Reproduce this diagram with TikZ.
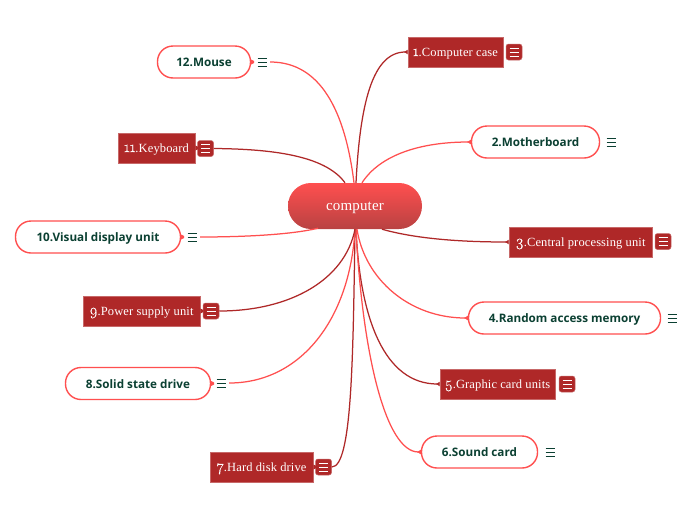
\documentclass[tikz,border=0pt]{standalone}
\usepackage{fontspec}
\setmainfont{Liberation Serif}[LetterSpace=1.0]
\newfontfamily\boldsans{Open Sans}
\newfontfamily\olddigits{Latin Modern Roman}[Numbers=OldStyle,Scale=1.25,FakeBold=0.6]
\newcommand{\oldnum}[1]{{\olddigits #1}}
\usetikzlibrary{arrows.meta}
\definecolor{brick}{HTML}{AF2828}
\definecolor{coral}{HTML}{FF4F4F}
\definecolor{ink}{HTML}{0B4032}
\tikzset{
  x=1pt,y=-1pt,
  rootnode/.style={draw=none,rounded corners=22.9pt,top color=coral,bottom color=brick!88!white,minimum width=134pt,minimum height=46pt,inner sep=0pt,text=white,text height=8pt,text depth=0pt,font=\fontsize{15}{17}\selectfont},
  boxnode/.style={draw=brick!70!white,line width=.6pt,fill=brick,minimum height=30pt,inner sep=0pt,text=white,text height=8pt,text depth=0pt,font=\fontsize{12.5}{14}\selectfont},
  pillnode/.style={draw=coral,line width=1.4pt,fill=white,rounded corners=15.5pt,minimum height=32pt,inner sep=0pt,text=ink,text height=9pt,text depth=0pt,font=\boldsans\bfseries\fontsize{11.7}{14}\selectfont},
  menubox/.style={draw=brick!70!white,line width=.5pt,fill=brick,rounded corners=2.5pt,minimum width=16pt,minimum height=16pt,inner sep=0pt,
    path picture={\draw[white,line width=1pt] ([xshift=-4.5pt,yshift=4pt]path picture bounding box.center) -- ++(9pt,0pt) ([xshift=-4.5pt]path picture bounding box.center) -- ++(9pt,0pt) ([xshift=-4.5pt,yshift=-4pt]path picture bounding box.center) -- ++(9pt,0pt);}},
  menuplain/.style={draw=none,minimum width=16pt,minimum height=16pt,inner sep=0pt,
    path picture={\draw[ink,line width=.9pt] ([xshift=-4.5pt,yshift=4pt]path picture bounding box.center) -- ++(9pt,0pt) ([xshift=-4.5pt]path picture bounding box.center) -- ++(9pt,0pt) ([xshift=-4.5pt,yshift=-4pt]path picture bounding box.center) -- ++(9pt,0pt);}},
  linkdark/.style={draw=brick,line width=1.25pt},
  linklight/.style={draw=coral,line width=1.25pt},
  tipin/.style={-{Latex[reversed,length=4pt,width=5pt]}},
}
\begin{document}
\begin{tikzpicture}
\useasboundingbox (0,0) rectangle (696,520);
\fill[white] (0,0) rectangle (696,520);
\node[rootnode] (root) at (355,206) {computer};

\node[boxnode,minimum width=95pt] (n1) at (455.5,52) {\oldnum{1}.Computer case};
\node[menubox] (m1) at (514,52) {};
\node[pillnode,minimum width=128pt] (n2) at (535.5,142) {2.Motherboard\hspace{5pt}};
\node[menuplain] (m2) at (611,142) {};
\node[boxnode,minimum width=143pt] (n3) at (580.5,242) {\oldnum{3}.Central processing unit};
\node[menubox] (m3) at (663,241.5) {};
\node[pillnode,minimum width=192pt] (n4) at (564.5,318) {4.Random access memory\hspace{5pt}};
\node[menuplain] (m4) at (672,318) {};
\node[boxnode,minimum width=115pt] (n5) at (497.5,384) {\oldnum{5}.Graphic card units};
\node[menubox] (m5) at (567,384) {};
\node[pillnode,minimum width=116pt] (n6) at (479.5,452) {6.Sound card\hspace{7pt}};
\node[menuplain] (m6) at (550,452) {};
\node[boxnode,minimum width=103pt] (n7) at (261.5,467) {\oldnum{7}.Hard disk drive};
\node[menubox] (m7) at (323.5,467) {};
\node[pillnode,minimum width=145pt] (n8) at (138,383.5) {8.Solid state drive\hspace{5pt}};
\node[menuplain] (m8) at (221,383) {};
\node[boxnode,minimum width=117pt] (n9) at (141.5,311) {\oldnum{9}.Power supply unit};
\node[menubox] (m9) at (211,311) {};
\node[pillnode,minimum width=165pt] (n10) at (98,237) {10.Visual display unit\hspace{5pt}};
\node[menuplain] (m10) at (192,237) {};
\node[boxnode,minimum width=77pt] (n11) at (156.5,148) {\oldnum{11}.Keyboard};
\node[menubox] (m11) at (205.5,148.5) {};
\node[pillnode,minimum width=93pt] (n12) at (204,62) {12.Mouse\hspace{4pt}};
\node[menuplain] (m12) at (262,62) {};

% right-hand links
\draw[linkdark,tipin] (root.north) ++(1,0) .. controls (360,105) and (372,52) .. (n1.west);
\draw[linklight,tipin] (root.north) ++(7,0) .. controls (380,155) and (420,142) .. (n2.west);
\draw[linkdark,tipin] (root.south) ++(27,0) .. controls (420,240) and (470,242) .. (n3.west);
\draw[linklight,tipin] (root.south) ++(2,0) .. controls (365,280) and (410,318) .. (n4.west);
\draw[linkdark,tipin] (root.south) ++(1,0) .. controls (360,320) and (385,384) .. (n5.west);
\draw[linklight,tipin] (root.south) ++(1,0) .. controls (362,350) and (385,452) .. (n6.west);
% left-hand links
\draw[linkdark] (root.south) .. controls (353,360) and (352,467) .. (m7.east);
\draw[linklight] (root.south) .. controls (350,320) and (300,383) .. (m8.east);
\draw[linkdark] (root.south) .. controls (345,280) and (290,311) .. (m9.east);
\draw[linklight] (root.south) ++(-37,-1) .. controls (290,235) and (240,237) .. (m10.east);
\draw[linkdark] (root.north) ++(-10,0) .. controls (325,155) and (270,149) .. (m11.east);
\draw[linklight] (root.north) ++(-1,0) .. controls (345,110) and (320,62) .. (m12.east);
% small stubs on the left-hand topics
\foreach \k/\c in {n7/brick,n8/coral,n9/brick,n10/coral,n11/brick,n12/coral}
  \fill[\c] (\k.east) ++(0,-2.5) -- ++(3,1.5) -- ++(0,2) -- ++(-3,1.5) -- cycle;
\end{tikzpicture}
\end{document}
